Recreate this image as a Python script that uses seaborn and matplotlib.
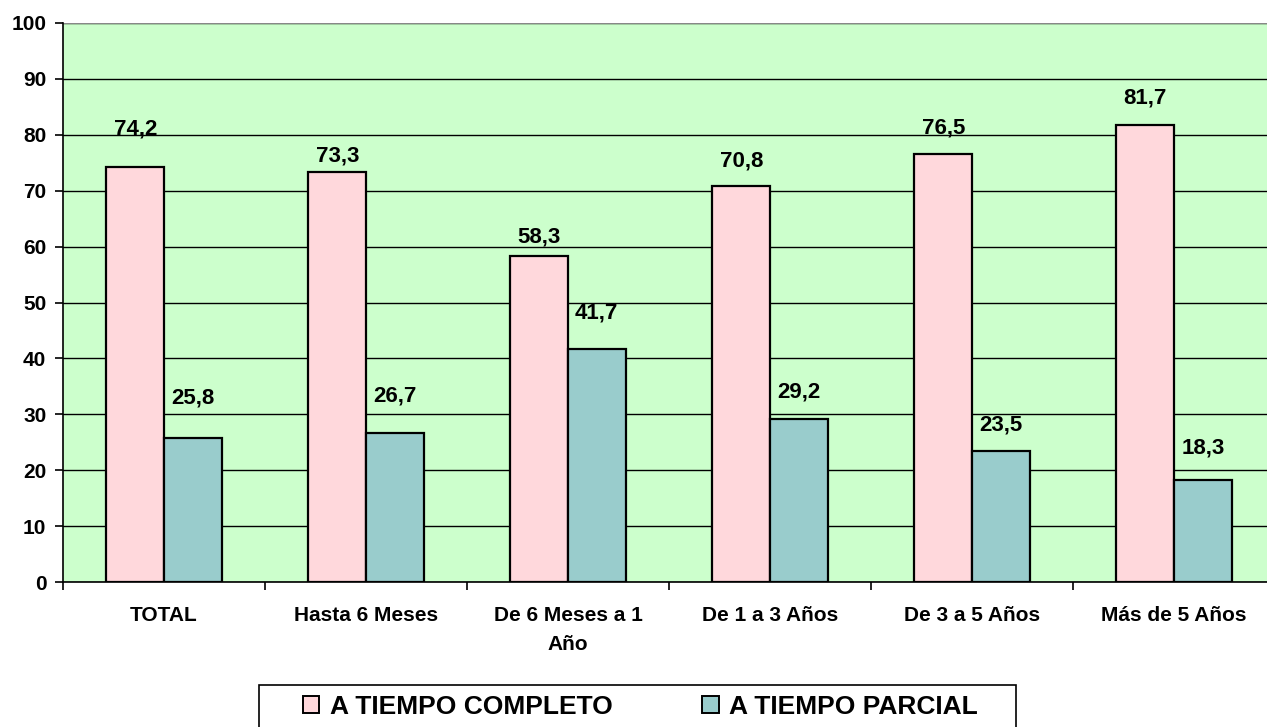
import matplotlib
matplotlib.use("Agg")
import matplotlib.pyplot as plt
import seaborn as sns
import pandas as pd
from matplotlib.patches import Rectangle
from matplotlib.ticker import FixedLocator

categories = ["TOTAL", "Hasta 6 Meses", "De 6 Meses a 1\nAño", "De 1 a 3 Años",
              "De 3 a 5 Años", "Más de 5 Años"]
series = ["A TIEMPO COMPLETO", "A TIEMPO PARCIAL"]
completo = [74.2, 73.3, 58.3, 70.8, 76.5, 81.7]
parcial = [25.8, 26.7, 41.7, 29.2, 23.5, 18.3]
y_ticks = list(range(0, 101, 10))

# how far (in axis units) each value label sits above its bar
lift_completo = [6.8, 2.9, 3.4, 4.5, 4.8, 4.8]
lift_parcial = [7.2, 6.6, 6.4, 4.7, 4.5, 5.7]

df = pd.DataFrame({
    "cat": categories * 2,
    "serie": [series[0]] * len(categories) + [series[1]] * len(categories),
    "valor": completo + parcial,
})

sns.set_theme(style="white")
plt.rcParams["font.family"] = ["Liberation Sans", "DejaVu Sans"]
plt.rcParams["font.weight"] = "bold"

W, H = 1267, 727
fig = plt.figure(figsize=(W / 100, H / 100), dpi=100)
left, right, top, bottom = 63, 1275, 23, 582
ax = fig.add_axes([left / W, 1 - bottom / H, (right - left) / W, (bottom - top) / H])
ax.set_facecolor("#CCFFCC")

colors = {series[0]: "#FFD8DC", series[1]: "#99CCCC"}
sns.barplot(data=df, x="cat", y="valor", hue="serie", order=categories,
            hue_order=series, palette=colors, width=0.57, dodge=True,
            edgecolor="black", linewidth=1.6, saturation=1, ax=ax,
            legend=True, zorder=3)

ax.set_ylim(0, 100)
ax.set_xlim(-0.5, len(categories) - 0.5)
ax.set_yticks(y_ticks)
ax.yaxis.grid(True, color="black", linewidth=1.0, zorder=0)
ax.set_axisbelow(True)
ax.set_xlabel("")
ax.set_ylabel("")

for sp in ["top", "right"]:
    ax.spines[sp].set_visible(False)
for sp in ["left", "bottom"]:
    ax.spines[sp].set_color("black")
    ax.spines[sp].set_linewidth(1.2)
ax.axhline(100, color="#888888", linewidth=1.5, zorder=1)

ax.tick_params(axis="y", which="major", length=6, width=1.2, color="black",
               labelsize=15, pad=6, left=True)
ax.tick_params(axis="x", which="major", length=0, labelsize=15, pad=17)
ax.xaxis.set_minor_locator(FixedLocator([i - 0.5 for i in range(len(categories) + 1)]))
ax.tick_params(axis="x", which="minor", length=6, width=1.2, color="black", bottom=True)
for lbl in ax.get_xticklabels() + ax.get_yticklabels():
    lbl.set_fontweight("bold")
    lbl.set_color("black")
for lbl in ax.get_xticklabels():
    lbl.set_linespacing(1.7)

# value labels above each bar
for cont, lifts in zip(ax.containers, [lift_completo, lift_parcial]):
    for bar, lift in zip(cont, lifts):
        h = bar.get_height()
        ax.text(bar.get_x() + bar.get_width() / 2, h + lift,
                f"{h:.1f}".replace(".", ","), ha="center", va="center",
                fontsize=16, fontweight="bold", color="black", zorder=4)

# legend entries, with a separate frame box running off the bottom edge
handles, labels = ax.get_legend_handles_labels()
ax.get_legend().remove()
leg = fig.legend(handles, labels, loc="center left",
                 bbox_to_anchor=(303 / W, 1 - 707 / H), ncol=2, frameon=False,
                 borderaxespad=0, borderpad=0, handlelength=0.62,
                 handleheight=0.62, handletextpad=0.4, columnspacing=3.4,
                 prop={"size": 19, "weight": "bold"})
for t in leg.get_texts():
    t.set_color("black")
for hnd in leg.legend_handles:
    hnd.set_linewidth(1.4)
fig.patches.append(Rectangle((259 / W, -0.05), (1016 - 259) / W, 0.05 + 1 - 685 / H,
                             transform=fig.transFigure, facecolor="none",
                             edgecolor="black", linewidth=1.2))

fig.savefig("out.png", dpi=100)
